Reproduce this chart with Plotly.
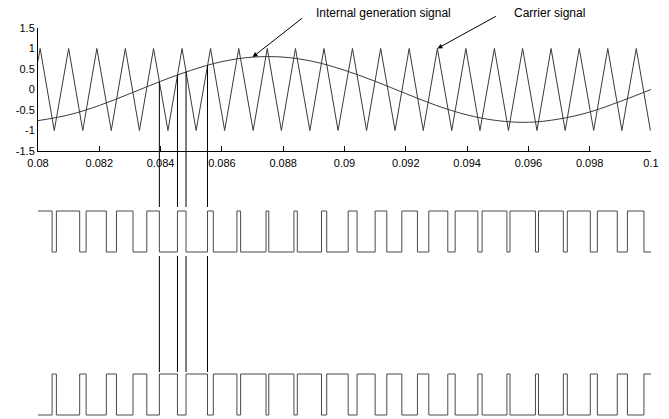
import plotly.graph_objects as go

# ---------------- data ----------------
x_ticks = [0.08, 0.082, 0.084, 0.086, 0.088, 0.09, 0.092, 0.094, 0.096, 0.098, 0.1]
x_tick_labels = ["0.08", "0.082", "0.084", "0.086", "0.088", "0.09", "0.092", "0.094", "0.096", "0.098", "0.1"]
y_ticks = [-1.5, -1, -0.5, 0, 0.5, 1, 1.5]
y_tick_labels = ["-1.5", "-1", "-0.5", "0", "0.5", "1", "1.5"]

# internal generation (modulating) signal samples
sine_t = [0.080, 0.081, 0.082, 0.083, 0.084, 0.085, 0.086, 0.087, 0.088, 0.089, 0.090,
          0.091, 0.092, 0.093, 0.094, 0.095, 0.096, 0.097, 0.098, 0.099, 0.100]
sine_y = [-0.76, -0.62, -0.39, -0.10, 0.20, 0.47, 0.68, 0.79, 0.79, 0.68, 0.47,
          0.20, -0.10, -0.39, -0.62, -0.76, -0.80, -0.72, -0.55, -0.29, 0.00]

# carrier (triangle) vertices
carrier_start_t, carrier_start_y = 0.08, 0.70
carrier_peak_t = [0.08007, 0.08100, 0.08192, 0.08285, 0.08377, 0.08470, 0.08563, 0.08655,
                  0.08748, 0.08840, 0.08933, 0.09026, 0.09118, 0.09211, 0.09303, 0.09396,
                  0.09489, 0.09581, 0.09674, 0.09766, 0.09859, 0.09952]
carrier_trough_t = [0.08053, 0.08146, 0.08239, 0.08331, 0.08424, 0.08516, 0.08609, 0.08702,
                    0.08794, 0.08887, 0.08979, 0.09072, 0.09165, 0.09257, 0.09350, 0.09442,
                    0.09535, 0.09628, 0.09720, 0.09813, 0.09905, 0.09998]
carrier_peak_y = 1.0
carrier_trough_y = -1.0

# PWM switching instants (upper pulse train goes low at fall_t, high at rise_t)
fall_t = [0.08046, 0.08136, 0.08223, 0.08310, 0.08396, 0.08483, 0.08572, 0.08661, 0.08753,
          0.08846, 0.08942, 0.09041, 0.09138, 0.09238, 0.09337, 0.09435, 0.09530, 0.09623,
          0.09714, 0.09802, 0.09890, 0.09977]
rise_t = [0.08060, 0.08157, 0.08256, 0.08355, 0.08455, 0.08553, 0.08649, 0.08744, 0.08835,
          0.08925, 0.09012, 0.09100, 0.09187, 0.09275, 0.09361, 0.09449, 0.09540, 0.09633,
          0.09727, 0.09825, 0.09923]
pwm_start_state = 1

# marked intersections (vertical guide lines)
marked_t = [0.08396, 0.08455, 0.08483, 0.08553]
marked_y = [0.19, 0.35, 0.43, 0.59]

# ---------------- build traces ----------------
W, H = 669, 419
ML, MR, MT, MB = 38, 18, 28, 2
plot_h = H - MT - MB
px_axis_bottom = 151
top_dom0 = (H - MB - px_axis_bottom) / plot_h
lower_span = H - MB - px_axis_bottom  # y2 units = pixels above plot bottom

def lv(px):
    return (H - MB) - px

TOP_HI, TOP_LO = lv(211), lv(252)
BOT_HI, BOT_LO = lv(374), lv(415)

t_start, t_end = x_ticks[0], x_ticks[-1]

ctx = [carrier_start_t]
cty = [carrier_start_y]
for p, q in zip(carrier_peak_t, carrier_trough_t):
    ctx += [p, q]
    cty += [carrier_peak_y, carrier_trough_y]

switch_t = sorted(fall_t + rise_t)
pwm_t = [t_start] + switch_t + [t_end]
states = [pwm_start_state]
for _ in switch_t:
    states.append(1 - states[-1])
states.append(states[-1])

top_y = [TOP_LO + s * (TOP_HI - TOP_LO) for s in states]
bot_y = [BOT_LO + (1 - s) * (BOT_HI - BOT_LO) for s in states]

line_col = "#3a3a3a"
fig = go.Figure()
fig.add_trace(go.Scatter(x=ctx, y=cty, mode="lines", line=dict(color=line_col, width=1),
                         xaxis="x", yaxis="y", hoverinfo="skip"))
fig.add_trace(go.Scatter(x=sine_t, y=sine_y, mode="lines", line=dict(color=line_col, width=1, shape="spline"),
                         xaxis="x", yaxis="y", hoverinfo="skip"))

# guide lines in upper subplot
for t, v in zip(marked_t, marked_y):
    fig.add_trace(go.Scatter(x=[t, t], y=[v, y_ticks[0]], mode="lines", line=dict(color="black", width=1),
                             xaxis="x", yaxis="y", hoverinfo="skip"))

# pulse trains
fig.add_trace(go.Scatter(x=pwm_t, y=top_y, mode="lines", line=dict(color="#4a4a4a", width=1, shape="hv"),
                         xaxis="x2", yaxis="y2", hoverinfo="skip"))
fig.add_trace(go.Scatter(x=pwm_t, y=bot_y, mode="lines", line=dict(color="#4a4a4a", width=1, shape="hv"),
                         xaxis="x2", yaxis="y2", hoverinfo="skip"))

# guide lines in lower area
for t in marked_t:
    fig.add_trace(go.Scatter(x=[t, t, None, t, t],
                             y=[lower_span, lv(207), None, lv(256), lv(372)],
                             mode="lines", line=dict(color="black", width=1),
                             xaxis="x2", yaxis="y2", hoverinfo="skip", connectgaps=False))

font = dict(family="Liberation Sans, Arial, sans-serif", size=11, color="black")
ann_font = dict(family="Liberation Sans, Arial, sans-serif", size=12, color="black")

fig.update_layout(
    width=W, height=H,
    margin=dict(l=ML, r=MR, t=MT, b=MB, autoexpand=False),
    paper_bgcolor="white", plot_bgcolor="rgba(0,0,0,0)",
    showlegend=False,
    font=font,
    xaxis=dict(domain=[0, 1], range=[t_start, t_end], anchor="y", automargin=False,
               tickvals=x_ticks, ticktext=x_tick_labels, ticklabelstandoff=2,
               showline=True, linecolor="black", linewidth=1,
               ticks="inside", ticklen=5, tickcolor="black",
               showgrid=False, zeroline=False, fixedrange=True),
    yaxis=dict(domain=[top_dom0, 1], range=[y_ticks[0], y_ticks[-1]], anchor="x", automargin=False,
               tickvals=y_ticks, ticktext=y_tick_labels,
               showline=True, linecolor="black", linewidth=1,
               ticks="", showgrid=False, zeroline=False, fixedrange=True),
    xaxis2=dict(domain=[0, 1], range=[t_start, t_end], anchor="y2", visible=False, fixedrange=True),
    yaxis2=dict(domain=[0, top_dom0], range=[0, lower_span], anchor="x2", visible=False, fixedrange=True),
    annotations=[
        dict(text="Internal generation signal", xref="paper", yref="paper",
             x=(383 - ML) / (W - ML - MR), y=(H - MB - 13) / plot_h,
             showarrow=False, font=ann_font, xanchor="center", yanchor="middle"),
        dict(text="Carrier signal", xref="paper", yref="paper",
             x=(549 - ML) / (W - ML - MR), y=(H - MB - 13) / plot_h,
             showarrow=False, font=ann_font, xanchor="center", yanchor="middle"),
        dict(text="", x=0.0870, y=sine_y[7], xref="x", yref="y",
             showarrow=True, ax=51, ay=-40, arrowhead=2, arrowsize=1, arrowwidth=1, arrowcolor="black"),
        dict(text="", x=carrier_peak_t[14], y=carrier_peak_y, xref="x", yref="y",
             showarrow=True, ax=60, ay=-33, arrowhead=2, arrowsize=1, arrowwidth=1, arrowcolor="black"),
    ],
)

fig.write_html("out.html", config={"displayModeBar": False},
               post_script="document.body.style.margin='0';document.body.style.overflow='hidden';")
